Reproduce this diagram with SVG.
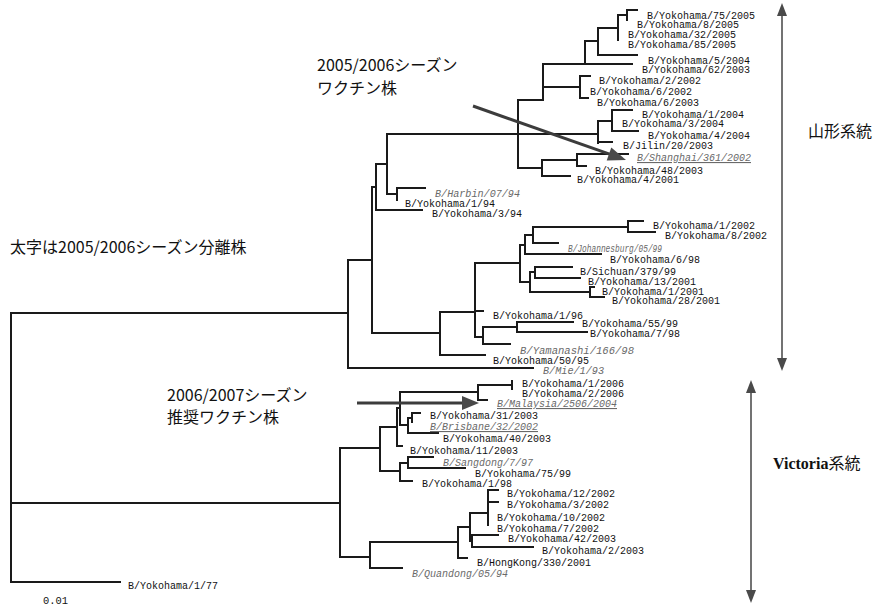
<svg xmlns="http://www.w3.org/2000/svg" width="883" height="607" viewBox="0 0 883 607">
<style>
.br{fill:none;stroke:#1a1a1a;stroke-width:2;stroke-linecap:square}
.lb{font-family:"Liberation Mono",monospace;font-size:11px;fill:#111}
.it{font-style:italic;fill:#6a6a6a}
.ul{text-decoration:underline}
.ann{font-family:"Noto Sans CJK JP",sans-serif;font-size:16px;fill:#111}
.ar{fill:none;stroke:#3c3c3c;stroke-width:3}
.ah{fill:#4a4a4a}
.rl{fill:none;stroke:#444;stroke-width:1.5}
</style>
<rect width="883" height="607" fill="#fff"/>
<g id="connectors">
<path class="br" d="M11,313V582M11,313H348M11,503H340M11,582H120
M348,260V368M348,260H372M348,368H533
M372,187V333M372,187H376M372,333H440
M376,164V210M376,164H387M376,210H422
M387,134V194M387,134H518M387,194H397
M397,188V200M397,188H425
M518,100V168M518,100H543M518,134H598M518,168H542
M543,64V100M543,64H632M543,87H580
M585,41V64M585,41H598
M598,28V55M598,28H618M598,55H637
M618,15V40M618,15H627
M627,10V20M627,10H637
M580,76V98M580,76H590M580,98H588
M598,121V143M598,121H612M598,142H612
M612,110V131M612,110H632M612,131H638
M542,160V176M542,160H577M542,176H570
M577,154V166M577,154H628M577,166H586
M440,312V355M440,312H475M440,355H485
M475,263V337M475,263H520M475,311H483M475,337H483
M483,327V344M483,327H517M483,344H510
M517,322V332M517,322H573M517,332H587
M520,245V282M520,245H525M520,282H530
M525,235V254M525,235H533M525,254H601
M533,227V243M533,227H628M533,243H558
M628,221V232M628,221H643M628,232H655
M530,272V292M530,272H535M530,292H590
M535,267V278M535,267H572M535,278H580
M590,287V297M590,287H594M590,297H604
M340,448V557M340,448H380M340,557H370
M380,427V471M380,427H397M380,471H400
M397,408V446M397,408H400M397,446H402
M400,392V425M400,392H478M400,425H408
M478,385V400M478,385H512M478,400H487
M512,381V389
M408,418V433M408,418H412M408,433H438
M412,413V422M412,413H420
M400,463V481M400,463H408M400,481H412
M408,457V468M408,457H433M408,468H465
M370,542V568M370,542H458M370,568H402
M458,527V558M458,527H470M458,558H467
M470,513V541M470,513H488M470,541H472
M488,490V525M488,490H498M488,502H498
M472,535V547M472,535H498M472,547H533"/>
</g>
<g id="labels">
<g id="n1"><text class="lb" x="647" y="19" textLength="108" lengthAdjust="spacingAndGlyphs">B/Yokohama/75/2005</text></g>
<g id="n2"><text class="lb" x="637" y="28" textLength="102" lengthAdjust="spacingAndGlyphs">B/Yokohama/8/2005</text></g>
<g id="n3"><text class="lb" x="628" y="38" textLength="108" lengthAdjust="spacingAndGlyphs">B/Yokohama/32/2005</text></g>
<g id="n4"><text class="lb" x="628" y="48" textLength="108" lengthAdjust="spacingAndGlyphs">B/Yokohama/85/2005</text></g>
<g id="n5"><text class="lb" x="648" y="64" textLength="102" lengthAdjust="spacingAndGlyphs">B/Yokohama/5/2004</text></g>
<g id="n6"><text class="lb" x="642" y="73" textLength="108" lengthAdjust="spacingAndGlyphs">B/Yokohama/62/2003</text></g>
<g id="n7"><text class="lb" x="599" y="84" textLength="102" lengthAdjust="spacingAndGlyphs">B/Yokohama/2/2002</text></g>
<g id="n8"><text class="lb" x="590" y="95" textLength="102" lengthAdjust="spacingAndGlyphs">B/Yokohama/6/2002</text></g>
<g id="n9"><text class="lb" x="597" y="106" textLength="102" lengthAdjust="spacingAndGlyphs">B/Yokohama/6/2003</text></g>
<g id="n10"><text class="lb" x="642" y="118" textLength="102" lengthAdjust="spacingAndGlyphs">B/Yokohama/1/2004</text></g>
<g id="n11"><text class="lb" x="622" y="127" textLength="102" lengthAdjust="spacingAndGlyphs">B/Yokohama/3/2004</text></g>
<g id="n12"><text class="lb" x="648" y="139" textLength="102" lengthAdjust="spacingAndGlyphs">B/Yokohama/4/2004</text></g>
<g id="n13"><text class="lb" x="623" y="149" textLength="90" lengthAdjust="spacingAndGlyphs">B/Jilin/20/2003</text></g>
<g id="n14"><text class="lb it ul" x="637" y="161" textLength="114" lengthAdjust="spacingAndGlyphs">B/Shanghai/361/2002</text></g>
<g id="n15"><text class="lb" x="595" y="174" textLength="108" lengthAdjust="spacingAndGlyphs">B/Yokohama/48/2003</text></g>
<g id="n16"><text class="lb" x="577" y="183" textLength="102" lengthAdjust="spacingAndGlyphs">B/Yokohama/4/2001</text></g>
<g id="n17"><text class="lb it" x="435" y="197" textLength="85" lengthAdjust="spacingAndGlyphs">B/Harbin/07/94</text></g>
<g id="n18"><text class="lb" x="405" y="207" textLength="90" lengthAdjust="spacingAndGlyphs">B/Yokohama/1/94</text></g>
<g id="n19"><text class="lb" x="432" y="217" textLength="90" lengthAdjust="spacingAndGlyphs">B/Yokohama/3/94</text></g>
<g id="n20"><text class="lb" x="653" y="229" textLength="102" lengthAdjust="spacingAndGlyphs">B/Yokohama/1/2002</text></g>
<g id="n21"><text class="lb" x="665" y="239" textLength="102" lengthAdjust="spacingAndGlyphs">B/Yokohama/8/2002</text></g>
<g id="n22"><text class="lb it" x="568" y="252" textLength="94" lengthAdjust="spacingAndGlyphs">B/Johannesburg/05/99</text></g>
<g id="n23"><text class="lb" x="610" y="263" textLength="90" lengthAdjust="spacingAndGlyphs">B/Yokohama/6/98</text></g>
<g id="n24"><text class="lb" x="580" y="275" textLength="96" lengthAdjust="spacingAndGlyphs">B/Sichuan/379/99</text></g>
<g id="n25"><text class="lb" x="588" y="285" textLength="108" lengthAdjust="spacingAndGlyphs">B/Yokohama/13/2001</text></g>
<g id="n26"><text class="lb" x="602" y="295" textLength="102" lengthAdjust="spacingAndGlyphs">B/Yokohama/1/2001</text></g>
<g id="n27"><text class="lb" x="612" y="304" textLength="108" lengthAdjust="spacingAndGlyphs">B/Yokohama/28/2001</text></g>
<g id="n28"><text class="lb" x="493" y="319" textLength="90" lengthAdjust="spacingAndGlyphs">B/Yokohama/1/96</text></g>
<g id="n29"><text class="lb" x="582" y="327" textLength="96" lengthAdjust="spacingAndGlyphs">B/Yokohama/55/99</text></g>
<g id="n30"><text class="lb" x="590" y="337" textLength="90" lengthAdjust="spacingAndGlyphs">B/Yokohama/7/98</text></g>
<g id="n31"><text class="lb it" x="520" y="354" textLength="114" lengthAdjust="spacingAndGlyphs">B/Yamanashi/166/98</text></g>
<g id="n32"><text class="lb" x="493" y="364" textLength="96" lengthAdjust="spacingAndGlyphs">B/Yokohama/50/95</text></g>
<g id="n33"><text class="lb it" x="543" y="374" textLength="61" lengthAdjust="spacingAndGlyphs">B/Mie/1/93</text></g>
<g id="n34"><text class="lb" x="522" y="387" textLength="102" lengthAdjust="spacingAndGlyphs">B/Yokohama/1/2006</text></g>
<g id="n35"><text class="lb" x="522" y="397" textLength="102" lengthAdjust="spacingAndGlyphs">B/Yokohama/2/2006</text></g>
<g id="n36"><text class="lb it ul" x="497" y="407" textLength="120" lengthAdjust="spacingAndGlyphs">B/Malaysia/2506/2004</text></g>
<g id="n37"><text class="lb" x="430" y="419" textLength="108" lengthAdjust="spacingAndGlyphs">B/Yokohama/31/2003</text></g>
<g id="n38"><text class="lb it ul" x="430" y="430" textLength="108" lengthAdjust="spacingAndGlyphs">B/Brisbane/32/2002</text></g>
<g id="n39"><text class="lb" x="443" y="442" textLength="108" lengthAdjust="spacingAndGlyphs">B/Yokohama/40/2003</text></g>
<g id="n40"><text class="lb" x="410" y="454" textLength="108" lengthAdjust="spacingAndGlyphs">B/Yokohama/11/2003</text></g>
<g id="n41"><text class="lb it" x="443" y="466" textLength="90" lengthAdjust="spacingAndGlyphs">B/Sangdong/7/97</text></g>
<g id="n42"><text class="lb" x="475" y="477" textLength="96" lengthAdjust="spacingAndGlyphs">B/Yokohama/75/99</text></g>
<g id="n43"><text class="lb" x="422" y="487" textLength="90" lengthAdjust="spacingAndGlyphs">B/Yokohama/1/98</text></g>
<g id="n44"><text class="lb" x="507" y="497" textLength="108" lengthAdjust="spacingAndGlyphs">B/Yokohama/12/2002</text></g>
<g id="n45"><text class="lb" x="507" y="508" textLength="102" lengthAdjust="spacingAndGlyphs">B/Yokohama/3/2002</text></g>
<g id="n46"><text class="lb" x="497" y="521" textLength="108" lengthAdjust="spacingAndGlyphs">B/Yokohama/10/2002</text></g>
<g id="n47"><text class="lb" x="497" y="532" textLength="102" lengthAdjust="spacingAndGlyphs">B/Yokohama/7/2002</text></g>
<g id="n48"><text class="lb" x="508" y="542" textLength="108" lengthAdjust="spacingAndGlyphs">B/Yokohama/42/2003</text></g>
<g id="n49"><text class="lb" x="542" y="554" textLength="102" lengthAdjust="spacingAndGlyphs">B/Yokohama/2/2003</text></g>
<g id="n50"><text class="lb" x="477" y="566" textLength="114" lengthAdjust="spacingAndGlyphs">B/HongKong/330/2001</text></g>
<g id="n51"><text class="lb it" x="412" y="577" textLength="96" lengthAdjust="spacingAndGlyphs">B/Quandong/05/94</text></g>
<g id="n52"><text class="lb" x="128" y="589" textLength="90" lengthAdjust="spacingAndGlyphs">B/Yokohama/1/77</text></g>
<g id="scale"><text class="lb" x="43" y="604" textLength="25" lengthAdjust="spacingAndGlyphs">0.01</text></g>
</g>
<g id="annotations">
<g id="note-2005"><text class="ann" x="317" y="71">2005/2006シーズン</text><text class="ann" x="317" y="94">ワクチン株</text>
<path class="ar" d="M473,106L611,154.7"/><polygon class="ah" points="606.7,160.6 626,160 611.3,147.4"/></g>
<g id="note-bold"><text class="ann" x="10" y="253">太字は2005/2006シーズン分離株</text></g>
<g id="note-2006"><text class="ann" x="167" y="401">2006/2007シーズン</text><text class="ann" x="167" y="423">推奨ワクチン株</text>
<path class="ar" d="M357,403H464"/><polygon class="ah" points="462,396 479,403 462,410"/></g>
<g id="yamagata"><path class="rl" d="M782,14V360"/><polygon class="ah" points="777,16 782,3 787,16"/><polygon class="ah" points="777,358 782,371 787,358"/>
<text class="ann" x="808" y="137">山形系統</text></g>
<g id="victoria"><path class="rl" d="M751,391V592"/><polygon class="ah" points="746,393 751,380 756,393"/><polygon class="ah" points="746,590 751,603 756,590"/>
<text x="773" y="469" style="font-size:16px;fill:#111"><tspan style="font-family:'Liberation Serif',serif;font-weight:bold">Victoria</tspan><tspan style="font-family:'Noto Sans CJK JP',sans-serif">系統</tspan></text></g>
</g>
</svg>
